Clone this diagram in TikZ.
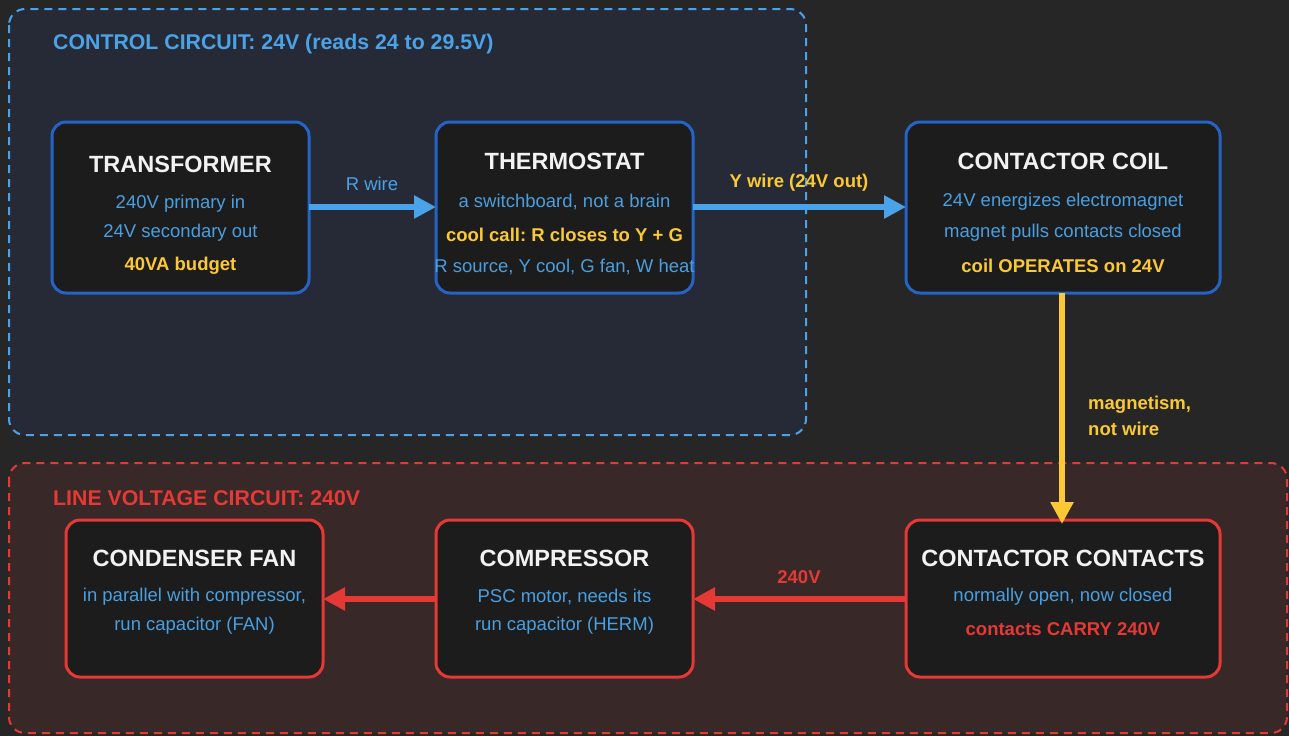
\documentclass[tikz,border=0pt]{standalone}
\usepackage{fontspec}
\setmainfont{Liberation Sans}
\usetikzlibrary{arrows.meta}
\frenchspacing

\definecolor{pagebg}{HTML}{262626}
\definecolor{ctrlbg}{HTML}{252A36}
\definecolor{linebg}{HTML}{382828}
\definecolor{boxbg}{HTML}{1C1C1C}
\definecolor{wireblue}{HTML}{4AA3E8}
\definecolor{txtblue}{HTML}{4A9FE0}
\definecolor{edgeblue}{HTML}{2563C4}
\definecolor{hotred}{HTML}{E53935}
\definecolor{amber}{HTML}{FBC934}
\definecolor{titlewhite}{HTML}{F2F2F2}

\tikzset{
  groupframe/.style={rounded corners=16pt, line width=2pt, dash pattern=on 8pt off 6pt},
  unitbox/.style={draw, line width=3pt, rounded corners=14pt, fill=boxbg},
  unittitle/.style={font=\fontsize{23.5}{28}\selectfont\bfseries, text=titlewhite, anchor=center, yshift=-1pt},
  bodyline/.style={font=\fontsize{18.5}{22}\selectfont, text=txtblue, anchor=center, yshift=-2.5pt},
  noteline/.style={font=\fontsize{18.5}{22}\selectfont\bfseries, anchor=center, yshift=-1.5pt},
  grouptitle/.style={font=\fontsize{21.3}{25}\selectfont\bfseries, anchor=west, inner sep=0pt},
  wire/.style={line width=6pt, -{Triangle[length=22pt,width=22pt]}},
}

\begin{document}
\begin{tikzpicture}[x=1pt,y=-1pt]
  % canvas
  \fill[pagebg] (0,0) rectangle (1289,736);
  \useasboundingbox (0,0) rectangle (1289,736);

  % circuit groups
  \draw[groupframe, draw=wireblue, fill=ctrlbg] (9,9) rectangle (806,435);
  \draw[groupframe, draw=hotred, fill=linebg] (9,463) rectangle (1287,733);
  \node[grouptitle, text=wireblue] (ctrltitle) at (53,44) {CONTROL CIRCUIT: 24V (reads 24 to 29.5V)};
  \node[grouptitle, text=hotred] (linetitle) at (53,498) {LINE VOLTAGE CIRCUIT: 240V};

  % control side units
  \draw[unitbox, draw=edgeblue] (52,122) rectangle (309,293);
  \coordinate (xfmr-e) at (309,207);
  \node[unittitle] (xfmrtitle) at (180.5,163) {TRANSFORMER};
  \node[bodyline] (xfmr1) at (180.5,201) {240V primary in};
  \node[bodyline] (xfmr2) at (180.5,230) {24V secondary out};
  \node[noteline, text=amber] (xfmr3) at (180.5,264) {40VA budget};

  \draw[unitbox, draw=edgeblue] (436,122) rectangle (693,293);
  \coordinate (tstat-w) at (436,207);
  \coordinate (tstat-e) at (693,207);
  \node[unittitle] (tstattitle) at (564.5,160) {THERMOSTAT};
  \node[bodyline] (tstat1) at (564.5,199) {a switchboard, not a brain};
  \node[noteline, text=amber] (tstat2) at (564.5,233) {cool call: R closes to Y + G};
  \node[bodyline] (tstat3) at (564.5,264) {R source, Y cool, G fan, W heat};

  \draw[unitbox, draw=edgeblue] (906,122) rectangle (1220,293);
  \coordinate (coil-w) at (906,207);
  \coordinate (coil-s) at (1062,293);
  \node[unittitle] (coiltitle) at (1063,160) {CONTACTOR COIL};
  \node[bodyline] (coil1) at (1063,199) {24V energizes electromagnet};
  \node[bodyline] (coil2) at (1063,230) {magnet pulls contacts closed};
  \node[noteline, text=amber] (coil3) at (1063,264) {coil OPERATES on 24V};

  % line side units
  \draw[unitbox, draw=hotred] (66,520) rectangle (323,677);
  \coordinate (fan-e) at (323,599);
  \node[unittitle] (fantitle) at (194.5,557) {CONDENSER FAN};
  \node[bodyline] (fan1) at (194.5,594) {in parallel with compressor,};
  \node[bodyline] (fan2) at (194.5,623) {run capacitor (FAN)};

  \draw[unitbox, draw=hotred] (436,520) rectangle (693,677);
  \coordinate (comp-w) at (436,599);
  \coordinate (comp-e) at (693,599);
  \node[unittitle] (comptitle) at (564.5,557) {COMPRESSOR};
  \node[bodyline] (comp1) at (564.5,594) {PSC motor, needs its};
  \node[bodyline] (comp2) at (564.5,623) {run capacitor (HERM)};

  \draw[unitbox, draw=hotred] (906,520) rectangle (1220,677);
  \coordinate (cont-w) at (906,599);
  \coordinate (cont-n) at (1062,520);
  \node[unittitle] (conttitle) at (1063,557) {CONTACTOR CONTACTS};
  \node[bodyline] (cont1) at (1063,594) {normally open, now closed};
  \node[noteline, text=hotred] (cont2) at (1063,628) {contacts CARRY 240V};

  % connectors
  \draw[wire, draw=wireblue, fill=wireblue] (xfmr-e) -- (tstat-w);
  \node[bodyline, text=wireblue] (rlabel) at (372,181) {R wire};
  \draw[wire, draw=wireblue, fill=wireblue] (tstat-e) -- (coil-w);
  \node[noteline, text=amber] (ylabel) at (799,181) {Y wire (24V out)};
  \draw[wire, draw=amber, fill=amber] (coil-s) -- ([yshift=-4pt]cont-n);
  \node[noteline, text=amber, anchor=north west, align=left, inner sep=0pt, yshift=0pt,
        font=\fontsize{18.5}{26}\selectfont\bfseries] (maglabel) at (1088,394) {magnetism,\\not wire};
  \draw[wire, draw=hotred, fill=hotred] (cont-w) -- (comp-e);
  \node[noteline, text=hotred] (vlabel) at (799,576) {240V};
  \draw[wire, draw=hotred, fill=hotred] (comp-w) -- (fan-e);
\end{tikzpicture}
\end{document}
